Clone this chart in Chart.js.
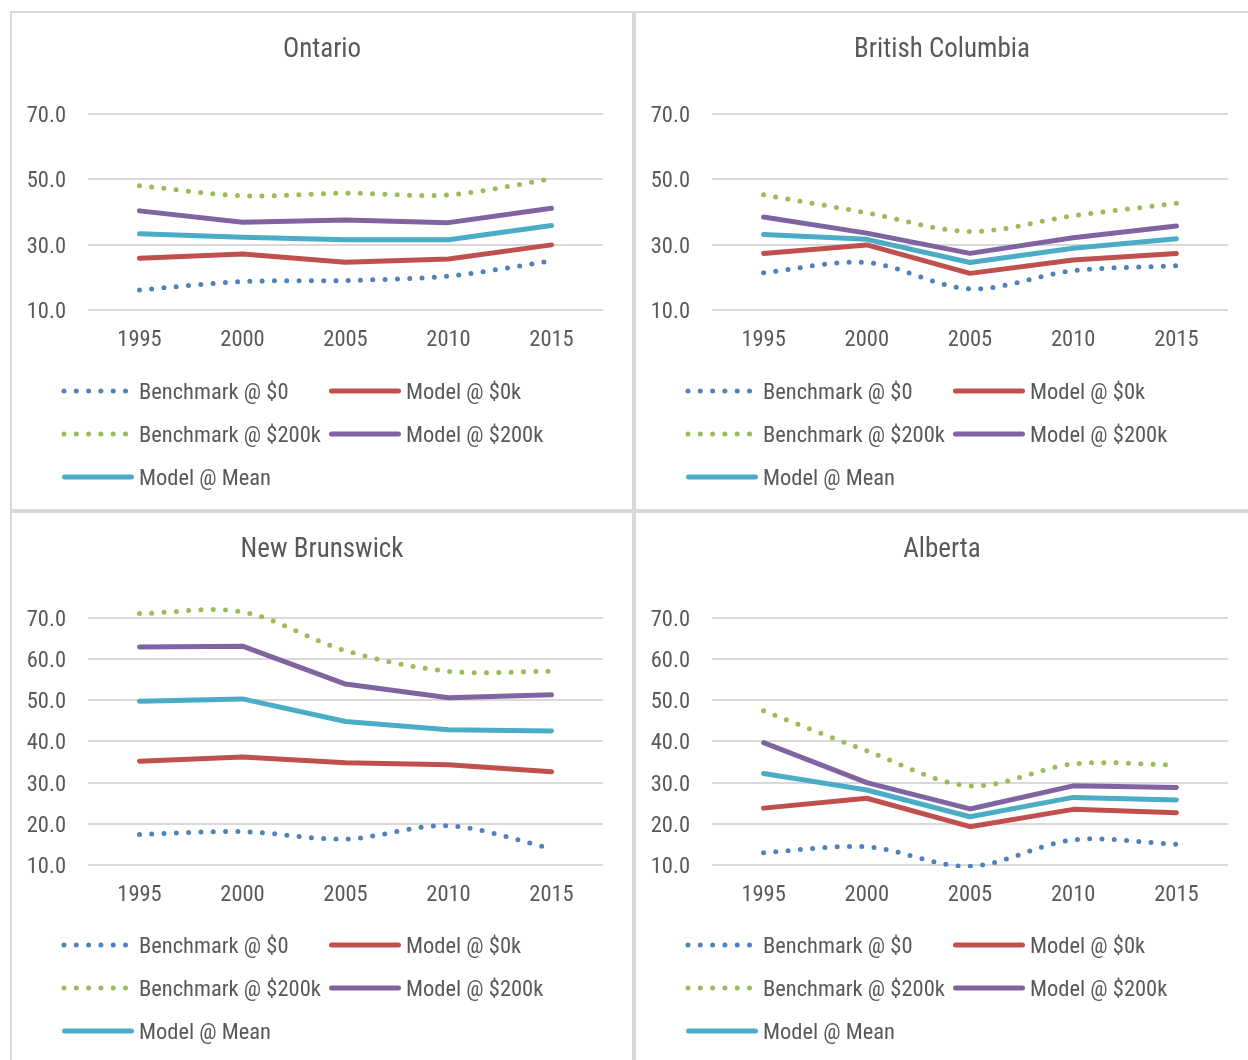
<!DOCTYPE html>
<html>
<head>
<meta charset="utf-8">
<script src="https://cdn.jsdelivr.net/npm/chart.js@4.4.0/dist/chart.umd.min.js"></script>
<style>
  html, body { margin: 0; padding: 0; background: #fff; width: 1248px; height: 1060px; overflow: hidden; }
  .panel { position: absolute; box-sizing: border-box; border: 0 solid #d9d9d9; background: #fff; }
  .panel canvas { display: block; }
</style>
</head>
<body>
<div class="panel" style="left:10px;top:11px;width:624px;height:500px;border-width:2px 2px 2px 2px"><canvas id="c0" width="620" height="496"></canvas></div>
<div class="panel" style="left:634px;top:11px;width:614px;height:500px;border-width:2px 0 2px 2px"><canvas id="c1" width="612" height="496"></canvas></div>
<div class="panel" style="left:10px;top:511px;width:624px;height:549px;border-width:2px 2px 0 2px"><canvas id="c2" width="620" height="547"></canvas></div>
<div class="panel" style="left:634px;top:511px;width:614px;height:549px;border-width:2px 0 0 2px"><canvas id="c3" width="612" height="547"></canvas></div>
<script>
// Categories and series names
const years = ['1995', '2000', '2005', '2010', '2015'];
const seriesNames = ['Benchmark @ $0', 'Model @ $0k', 'Benchmark @ $200k', 'Model @ $200k', 'Model @ Mean'];
const provinces = ['Ontario', 'British Columbia', 'New Brunswick', 'Alberta'];

// Y-axis tick values
const ticksWide = [10, 30, 50, 70];
const ticksFine = [10, 20, 30, 40, 50, 60, 70];

// Ontario
const onBench0   = [16.1, 18.7, 19.0, 20.4, 25.0];
const onModel0   = [25.8, 27.1, 24.6, 25.6, 29.9];
const onBench200 = [48.0, 44.9, 45.7, 45.2, 50.1];
const onModel200 = [40.3, 36.8, 37.5, 36.7, 41.1];
const onMean     = [33.3, 32.2, 31.5, 31.5, 35.8];

// British Columbia
const bcBench0   = [21.4, 24.5, 16.5, 22.0, 23.5];
const bcModel0   = [27.3, 29.9, 21.2, 25.3, 27.3];
const bcBench200 = [45.2, 39.7, 34.0, 38.8, 42.6];
const bcModel200 = [38.4, 33.5, 27.3, 32.1, 35.7];
const bcMean     = [33.1, 31.6, 24.5, 28.9, 31.8];

// New Brunswick
const nbBench0   = [17.4, 18.1, 16.3, 19.5, 14.0];
const nbModel0   = [35.2, 36.2, 34.8, 34.3, 32.6];
const nbBench200 = [71.0, 71.4, 62.0, 57.0, 57.0];
const nbModel200 = [62.9, 63.1, 53.9, 50.6, 51.3];
const nbMean     = [49.7, 50.3, 44.8, 42.8, 42.5];

// Alberta
const abBench0   = [13.0, 14.4, 9.7, 16.1, 15.0];
const abModel0   = [23.8, 26.2, 19.3, 23.5, 22.7];
const abBench200 = [47.4, 37.7, 29.2, 34.5, 34.3];
const abModel200 = [39.7, 30.0, 23.6, 29.2, 28.8];
const abMean     = [32.2, 28.2, 21.7, 26.4, 25.8];

// Pick the first installed narrow face
function installed(name) {
  const ctx = document.createElement('canvas').getContext('2d');
  const probe = 'Benchmark @ $200k 1995 mwil';
  return ['monospace', 'serif'].some(base => {
    ctx.font = '40px ' + base;
    const w0 = ctx.measureText(probe).width;
    ctx.font = '40px "' + name + '", ' + base;
    return Math.abs(ctx.measureText(probe).width - w0) > 0.5;
  });
}
const narrow = ['Roboto Condensed', 'Liberation Sans Narrow', 'Arial Narrow', 'DejaVu Sans Condensed'];
const found = narrow.find(installed);
const FONT = found ? '"' + found + '", sans-serif' : '"Liberation Sans", Arial, sans-serif';

const TEXT = '#595959';
const LABEL_SIZE = 22.5;
const colors = ['#4F81BD', '#C0504D', '#9BBB59', '#8064A2', '#4BACC6'];
const dotted = [true, false, true, false, false];

// Legend laid out in a fixed two-column grid under the plot
const gridLegend = {
  id: 'gridLegend',
  afterDraw(chart, args, opts) {
    const ctx = chart.ctx;
    const area = chart.chartArea;
    ctx.save();
    chart.data.datasets.forEach((ds, i) => {
      const col = i % 2, row = Math.floor(i / 2);
      const x0 = area.left + opts.columns[col];
      const y = area.bottom + opts.top + row * opts.rowGap;
      ctx.strokeStyle = ds.borderColor;
      ctx.lineWidth = ds.borderWidth;
      ctx.lineCap = 'round';
      ctx.beginPath();
      if (ds.borderDash && ds.borderDash.length) {
        ctx.setLineDash(ds.borderDash);
        ctx.moveTo(x0 + 2, y);
        ctx.lineTo(x0 + 65, y);
      } else {
        ctx.setLineDash([]);
        ctx.moveTo(x0 + 2.5, y);
        ctx.lineTo(x0 + 69.5, y);
      }
      ctx.stroke();
      ctx.setLineDash([]);
      ctx.fillStyle = TEXT;
      ctx.font = LABEL_SIZE + 'px ' + FONT;
      ctx.textBaseline = 'middle';
      ctx.textAlign = 'left';
      ctx.fillText(ds.label, x0 + 77, y + 2);
    });
    ctx.restore();
  }
};

function makeDatasets(series) {
  return series.map((vals, i) => ({
    label: seriesNames[i],
    data: vals,
    borderColor: colors[i],
    backgroundColor: colors[i],
    borderWidth: 5,
    borderDash: dotted[i] ? [0, 12.3] : [],
    borderCapStyle: 'round',
    borderJoinStyle: 'round',
    tension: dotted[i] ? 0.33 : 0,
    pointRadius: 0,
    pointHoverRadius: 0,
    clip: { left: 6, right: 6, top: 12, bottom: 3 },
    fill: false
  }));
}

function makeChart(id, title, series, tickVals, cfg) {
  new Chart(document.getElementById(id), {
    type: 'line',
    data: { labels: years, datasets: makeDatasets(series) },
    plugins: [gridLegend],
    options: {
      responsive: false,
      animation: false,
      devicePixelRatio: 1,
      layout: { padding: { left: 0, right: 0, top: 0, bottom: cfg.bottom } },
      plugins: {
        legend: { display: false },
        tooltip: { enabled: false },
        title: {
          display: true,
          text: title,
          color: TEXT,
          font: { family: FONT, size: 27, weight: 'normal' },
          padding: { top: 21, bottom: cfg.titleGap }
        },
        gridLegend: { columns: [-26, 241], top: cfg.legendTop, rowGap: 43 }
      },
      scales: {
        x: {
          type: 'category',
          offset: true,
          grid: { display: false, drawTicks: false },
          border: { display: false },
          ticks: { color: TEXT, font: { family: FONT, size: LABEL_SIZE }, padding: 17, maxRotation: 0 },
          afterFit(axis) { axis.height = 50; }
        },
        y: {
          min: 10,
          max: 70,
          grid: { color: '#d9d9d9', lineWidth: 2, drawTicks: false },
          border: { display: false },
          ticks: {
            color: TEXT,
            font: { family: FONT, size: LABEL_SIZE },
            padding: 22,
            labelOffset: 2.5,
            callback: v => Number(v).toFixed(1)
          },
          afterBuildTicks(axis) { axis.ticks = tickVals.map(v => ({ value: v })); },
          afterFit(axis) { axis.width = 76; }
        },
        // empty margin on the right of the plot
        yRight: {
          position: 'right',
          min: 10,
          max: 70,
          grid: { display: false, drawTicks: false },
          border: { display: false },
          ticks: { display: false },
          afterFit(axis) { axis.width = cfg.right; }
        }
      }
    }
  });
}

makeChart('c0', provinces[0], [onBench0, onModel0, onBench200, onModel200, onMean], ticksWide,
  { right: 29, bottom: 149, titleGap: 47.3, legendTop: 81 });
makeChart('c1', provinces[1], [bcBench0, bcModel0, bcBench200, bcModel200, bcMean], ticksWide,
  { right: 20, bottom: 149, titleGap: 47.3, legendTop: 81 });
makeChart('c2', provinces[2], [nbBench0, nbModel0, nbBench200, nbModel200, nbMean], ticksFine,
  { right: 29, bottom: 145, titleGap: 51.3, legendTop: 80 });
makeChart('c3', provinces[3], [abBench0, abModel0, abBench200, abModel200, abMean], ticksFine,
  { right: 20, bottom: 145, titleGap: 51.3, legendTop: 80 });
</script>
</body>
</html>
